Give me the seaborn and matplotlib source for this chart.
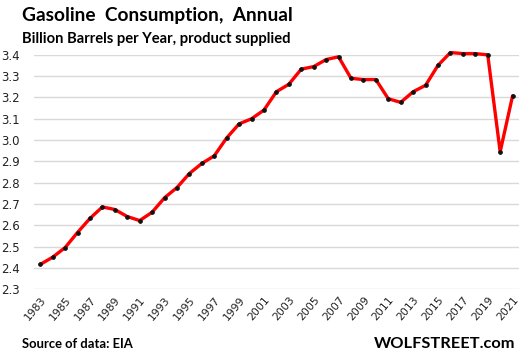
import numpy as np
import pandas as pd
import seaborn as sns
import matplotlib
matplotlib.use("Agg")
import matplotlib.pyplot as plt

years = list(range(1983, 2022))
consumption = [2.416, 2.450, 2.495, 2.566, 2.632, 2.686, 2.674, 2.641, 2.622, 2.661,
               2.729, 2.777, 2.843, 2.890, 2.926, 3.010, 3.076, 3.100, 3.141, 3.227,
               3.262, 3.333, 3.345, 3.378, 3.391, 3.290, 3.284, 3.284, 3.194, 3.177,
               3.227, 3.257, 3.351, 3.411, 3.406, 3.406, 3.400, 2.945, 3.208]
y_ticks = [2.3, 2.4, 2.5, 2.6, 2.7, 2.8, 2.9, 3.0, 3.1, 3.2, 3.3, 3.4]
x_ticks = list(range(1983, 2022, 2))

df = pd.DataFrame({"year": years, "value": consumption})

sns.set_style("white")
plt.rcParams["font.family"] = ["DejaVu Sans"]

fig = plt.figure(figsize=(5.23, 3.61), dpi=100)
ax = fig.add_axes([0.065, 0.199, 0.927, 0.649])

sns.lineplot(data=df, x="year", y="value", ax=ax, color="#ff0000", linewidth=2.4,
             marker="o", markersize=2.6, markerfacecolor="#111111",
             markeredgecolor="#111111", clip_on=False, zorder=3)

ax.set_xlim(1982.5, 2021.5)
ax.set_ylim(2.3, 3.4)
ax.set_yticks(y_ticks)
ax.set_yticklabels([f"{v:.1f}" for v in y_ticks], fontsize=8.5, color="#222222")
ax.set_xticks(x_ticks)
ax.set_xticklabels([str(y) for y in x_ticks], rotation=50, ha="right",
                   rotation_mode="anchor", fontsize=7.8, color="#222222")
ax.tick_params(axis="both", length=0, pad=4)
ax.tick_params(axis="y", pad=10)
ax.grid(axis="y", color="#d9d9d9", linewidth=1)
ax.set_axisbelow(True)
for s in ax.spines.values():
    s.set_visible(False)
ax.set_xlabel("")
ax.set_ylabel("")

label_font = ["Lato", "DejaVu Sans"]
fig.text(0.042, 0.958, "Gasoline  Consumption,  Annual", fontsize=13.8,
         fontweight="bold", va="center", ha="left", color="#000000", family=label_font)
fig.text(0.042, 0.893, "Billion Barrels per Year, product supplied", fontsize=10.6,
         fontweight="bold", va="center", ha="left", color="#000000", family=label_font)
fig.text(0.042, 0.047, "Source of data: EIA", fontsize=9.4, fontweight="bold",
         va="center", ha="left", color="#000000", family=label_font)
fig.text(0.985, 0.047, "WOLFSTREET.com", fontsize=11.8, fontweight="bold",
         va="center", ha="right", color="#000000", family=label_font)

fig.savefig("out.png", dpi=100)
